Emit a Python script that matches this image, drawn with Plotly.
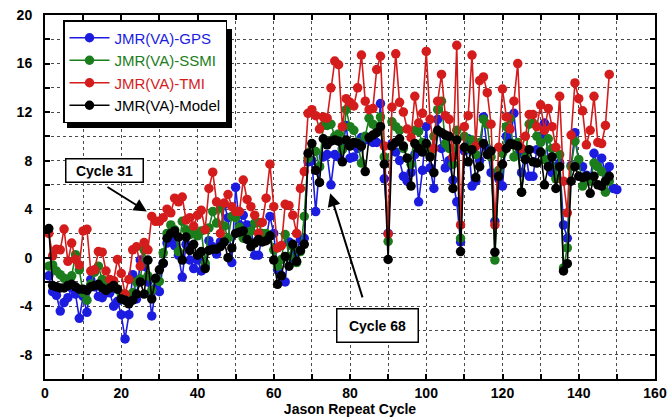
import plotly.graph_objects as go

cycles = list(range(1, 151))

gps = [-1.5, -2.8, -3.1, -4.4, -3.7, -3.3, -2.5, -3.0, -5.0, -3.2,
       -4.5, -1.8, -2.4, -3.2, -3.3, -2.9, -2.9, -4.0, -3.6, -4.7,
       -6.7, -4.7, -1.4, -3.4, -0.2, -0.7, -2.0, -4.8, -2.5, -2.8,
       -0.5, 1.2, 1.5, 1.0, 0.2, -1.6, 1.1, -0.2, -0.9, -0.2,
       -1.1, -0.7, 1.4, 0.9, 0.3, 1.3, 4.4, 3.3, -0.4, 5.8,
       2.7, 3.5, 2.7, 2.6, 0.2, 0.2, 1.8, 1.5, 3.4, 2.0,
       -1.0, -1.5, -2.0, 1.3, 0.0, 0.5, 1.5, 1.6, 7.9, 8.0,
       3.8, 7.5, 8.3, 8.5, 6.0, 8.5, 8.3, 9.0, 10.9, 8.2,
       8.3, 9.0, 9.9, 9.7, 9.8, 9.5, 9.5, 12.7, 6.5, 2.0,
       9.4, 8.7, 8.0, 6.7, 6.3, 7.0, 8.5, 4.6, 7.2, 10.8,
       7.4, 5.7, 11.4, 9.0, 7.4, 8.0, 6.4, 4.6, 1.3, 8.8,
       9.8, 5.9, 6.3, 8.0, 11.6, 9.0, 7.0, 3.0, 6.5, 5.9,
       10.0, 9.5, 11.9, 8.5, 7.0, 8.8, 6.7, 6.7, 8.9, 10.0,
       11.1, 8.0, 7.0, 7.5, 7.8, 2.7, 1.6, 7.6, 10.3, 7.8,
       7.5, 6.8, 6.5, 8.6, 7.5, 8.2, 7.0, 7.5, 5.7, 5.6]

ssmi = [-0.7, -0.6, -1.1, -1.4, -1.7, -1.8, -1.5, 0.25, -1.0, -2.9,
        -3.5, -2.2, -1.2, -0.7, -1.8, -2.3, -2.0, -2.0, -2.6, -3.0,
        -3.5, -3.6, -2.9, -2.0, -1.75, 0.65, -1.5, -2.7, -1.8, -1.95,
        0.4, 2.0, 2.7, 2.3, 0.5, 3.0, 2.3, 1.9, 2.0, 1.8,
        2.2, -0.45, 2.45, 3.8, 2.85, 4.1, 2.6, 1.6, 3.4, 3.3,
        2.5, 1.6, 1.6, 2.2, 2.85, 2.9, 2.0, 2.0, 1.8, 0.65,
        -0.7, -0.15, 1.9, 0.1, 0.9, -0.4, 0.5, 3.4, 8.2, 8.9,
        8.75, 7.5, 10.9, 10.9, 11.0, 10.0, 10.2, 8.9, 12.2, 10.8,
        10.5, 9.5, 7.8, 10.0, 11.5, 11.0, 10.8, 11.6, 8.3, 1.35,
        11.2, 10.8, 10.5, 9.0, 8.2, 7.7, 10.5, 10.4, 9.5, 9.2,
        8.5, 10.0, 12.2, 12.9, 9.4, 9.0, 7.7, 10.5, 1.6, 10.0,
        9.0, 9.7, 8.5, 9.5, 11.4, 11.0, 8.3, -0.2, 7.2, 8.6,
        10.8, 11.5, 8.3, 9.5, 5.4, 8.3, 11.0, 11.1, 10.0, 9.5,
        8.1, 9.8, 9.0, 6.5, 8.5, -0.85, 0.8, 7.5, 9.6, 8.1,
        5.9, 6.3, 6.3, 7.8, 7.5, 7.1, 5.4, 6.3]

tmi = [2.0, 0.15, 0.7, 0.65, 2.36, -0.3, 1.2, -0.15, -0.6, 2.2,
       2.35, -1.1, -1.0, 0.5, 0.45, -1.1, -1.8, -1.9, -0.15, -1.3,
       -3.0, -1.8, 0.65, 0.9, -0.7, 1.25, 0.65, 3.4, 3.0, 3.0,
       3.3, 4.0, 3.7, 4.9, 4.6, 5.0, 3.1, 3.3, 2.6, 3.5,
       3.9, 2.3, 5.7, 7.05, 4.6, 2.0, 4.5, 5.2, 4.2, 3.8,
       3.8, 6.4, 4.8, 4.2, 3.5, 2.0, 2.9, 4.9, 7.7, 4.2,
       0.8, 1.0, 4.4, 4.3, 3.5, 2.0, 5.7, 7.1, 11.9, 12.2,
       11.7, 10.6, 11.6, 11.5, 14.0, 16.2, 15.9, 10.8, 13.1, 12.8,
       12.5, 14.0, 16.7, 12.9, 12.2, 12.3, 15.5, 16.6, 9.2, 1.95,
       12.4, 16.8, 12.8, 12.0, 10.6, 9.9, 13.3, 11.1, 11.9, 17.0,
       11.4, 9.0, 12.9, 15.1, 11.7, 11.4, 8.3, 17.5, 2.7, 10.8,
       11.7, 16.7, 9.2, 14.6, 14.9, 13.6, 11.0, 2.7, 9.1, 13.9,
       11.6, 10.6, 12.9, 16.0, 9.0, 10.0, 11.8, 11.8, 10.8, 12.6,
       10.5, 12.3, 10.8, 9.1, 13.3, 6.3, 3.7, 10.1, 14.4, 13.1,
       12.1, 9.3, 10.5, 13.3, 9.5, 9.4, 10.9, 15.1]

model = [2.4, -2.3, -2.4, -2.5, -2.5, -2.3, -2.2, -2.4, -2.6, -2.6,
         -2.7, -2.4, -2.3, -2.2, -2.5, -2.7, -2.5, -2.3, -2.6, -3.4,
         -3.5, -3.8, -3.5, -3.0, -2.0, -3.0, -0.2, -3.4, -1.7, -1.0,
         -0.45, 1.6, 2.0, 2.2, 1.7, -0.2, 1.7, 0.6, 1.1, 0.2,
         0.5, -0.9, 0.6, 0.7, 0.7, 0.9, 1.3, 0.0, 0.8, 2.0,
         2.1, 2.2, 1.5, 0.9, 1.2, 1.5, 1.3, 1.4, 1.8, -0.2,
         -2.2, -1.5, 0.1, -0.7, 1.1, -0.3, 0.6, 1.1, 8.6, 9.4,
         7.2, 6.2, 9.8, 9.3, 9.6, 9.7, 9.6, 7.9, 9.7, 9.2,
         9.5, 9.4, 9.2, 7.1, 9.9, 10.1, 10.3, 10.8, 7.7, -0.15,
         9.2, 9.5, 9.8, 9.2, 8.2, 5.9, 9.4, 9.0, 8.7, 9.4,
         8.3, 7.0, 10.5, 10.3, 10.1, 10.0, 5.7, 9.7, 0.5, 9.1,
         7.9, 8.9, 6.6, 7.5, 9.4, 8.5, 8.8, 0.45, 6.7, 7.7,
         9.0, 9.4, 9.3, 9.2, 5.4, 8.1, 8.9, 7.9, 7.8, 8.7,
         6.0, 7.5, 8.3, 5.7, 7.5, -1.1, -0.5, 6.3, 7.5, 6.7,
         6.6, 6.7, 5.3, 6.7, 6.0, 5.9, 6.3, 6.7]

series = [
    ("JMR(VA)-GPS", gps, "#1c1ce0"),
    ("JMR(VA)-SSMI", ssmi, "#1b7d1b"),
    ("JMR(VA)-TMI", tmi, "#d41c1c"),
    ("JMR(VA)-Model", model, "#000000"),
]

x_ticks = list(range(0, 161, 10))
x_labels = [str(v) if v % 20 == 0 else "" for v in x_ticks]
y_ticks = list(range(-10, 21, 2))
y_labels = [str(v) if v % 4 == 0 else "" for v in y_ticks]

FONT = "Liberation Sans, Arial, sans-serif"

W, H = 671, 417
ML, MR, MT, MB = 45, 16, 15, 38
PW, PH = W - ML - MR, H - MT - MB


def px_x(p):
    return (p - ML) / PW


def px_y(p):
    return 1 - (p - MT) / PH


fig = go.Figure()
for name, vals, col in series:
    fig.add_trace(go.Scatter(
        x=cycles[:len(vals)], y=vals, mode="lines+markers",
        name=f"<span style='color:{col}'>{name}</span>",
        line=dict(color=col, width=1.6),
        marker=dict(color=col, size=9.5, symbol="circle"),
    ))

axis_common = dict(
    showline=True, linecolor="black", linewidth=2, mirror="allticks",
    ticks="inside", ticklen=5, tickwidth=1.5, tickcolor="black",
    showgrid=True, gridcolor="#4a4a4a", gridwidth=1, griddash="dot",
    zeroline=False, automargin=False,
    tickfont=dict(family=FONT, size=14, color="black", weight="bold"),
)

fig.update_layout(
    width=W, height=H,
    margin=dict(l=ML, r=MR, t=MT, b=MB),
    paper_bgcolor="white", plot_bgcolor="white",
    xaxis=dict(range=[0, 160], tickmode="array", tickvals=x_ticks, ticktext=x_labels,
               title=dict(text="Jason Repeat Cycle", standoff=12,
                          font=dict(family=FONT, size=14, color="black", weight="bold")),
               **axis_common),
    yaxis=dict(range=[-10, 20], tickmode="array", tickvals=y_ticks, ticktext=y_labels,
               ticklabelstandoff=8, **axis_common),
    legend=dict(x=px_x(63), y=px_y(20), xanchor="left", yanchor="top",
                bgcolor="white", bordercolor="black", borderwidth=1.5,
                font=dict(family=FONT, size=15, color="black"),
                itemwidth=40, tracegroupgap=0),
    showlegend=True,
)

# legend drop shadow
fig.add_shape(type="rect", xref="paper", yref="paper", layer="above",
              x0=px_x(67), x1=px_x(232), y0=px_y(29), y1=px_y(128),
              fillcolor="black", line=dict(width=0))

# arrows
fig.add_annotation(x=26.7, y=3.8, ax=16, ay=5.9, axref="x", ayref="y", text="",
                   showarrow=True, arrowhead=2, arrowsize=1.3, arrowwidth=2, arrowcolor="black")
fig.add_annotation(x=74.8, y=5.3, ax=83.4, ay=-3.4, axref="x", ayref="y", text="",
                   showarrow=True, arrowhead=2, arrowsize=1.3, arrowwidth=2, arrowcolor="black")
# labels
fig.add_annotation(x=15.5, y=7.2, text="<b>Cycle 31</b>", showarrow=False,
                   font=dict(family=FONT, size=14, color="black"),
                   width=70, height=16, borderpad=3,
                   bgcolor="white", bordercolor="black", borderwidth=1.5)
fig.add_annotation(x=87.1, y=-5.6, text="<b>Cycle 68</b>", showarrow=False,
                   font=dict(family=FONT, size=14, color="black"),
                   width=64, height=16, borderpad=8,
                   bgcolor="white", bordercolor="black", borderwidth=1.5)

fig.write_html("out.html")
